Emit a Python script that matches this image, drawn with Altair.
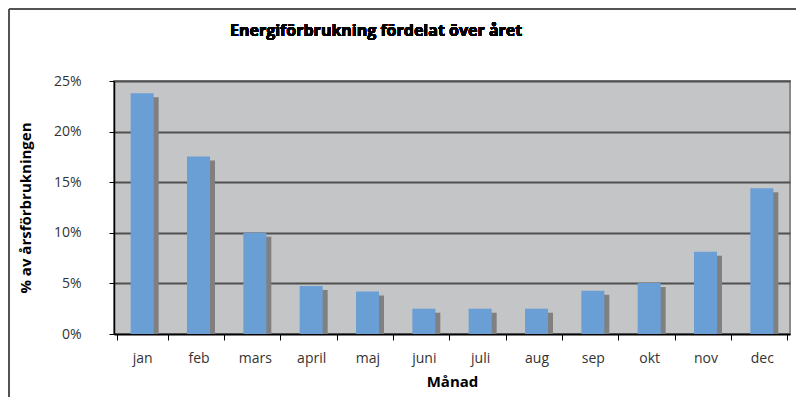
import altair as alt
import pandas as pd

months = ["jan", "feb", "mars", "april", "maj", "juni", "juli", "aug", "sep", "okt", "nov", "dec"]
share = [0.238, 0.1755, 0.100, 0.0475, 0.042, 0.025, 0.025, 0.025, 0.0428, 0.0505, 0.0813, 0.144]
y_ticks = [0, 0.05, 0.10, 0.15, 0.20, 0.25]
chart_title = "Energiförbrukning fördelat över året"

df = pd.DataFrame({"Månad": months, "andel": share})

FONT = "Open Sans"

x_enc = alt.X("Månad:N", sort=months,
              axis=alt.Axis(title="Månad", labelAngle=0, tickBand="extent",
                            tickSize=6, tickColor="#000000", domainColor="#000000",
                            domainWidth=1.5, labelPadding=11, titlePadding=9,
                            labelFont=FONT, labelFontSize=14, labelColor="#333333",
                            titleFont=FONT, titleFontSize=15, titleFontWeight="bold",
                            titleColor="#000000", grid=False))
y_enc = alt.Y("andel:Q", scale=alt.Scale(domain=[0, 0.25], nice=False),
              axis=alt.Axis(title="% av årsförbrukningen", format=".0%", values=y_ticks,
                            tickSize=5, tickColor="#000000", domainColor="#000000",
                            domainWidth=1.5, labelPadding=28,
                            labelFont=FONT, labelFontSize=14, labelColor="#333333",
                            titleFont=FONT, titleFontSize=15, titleFontWeight="bold",
                            titleColor="#000000", titleX=-89, titleY=126.5,
                            titleAlign="center", titleBaseline="middle",
                            grid=True, gridColor="#505050", gridWidth=2))

shadow = alt.Chart(df).mark_bar(color="#808080", size=23, xOffset=5, yOffset=4,
                                clip=True).encode(x=x_enc, y=y_enc)
bars = alt.Chart(df).mark_bar(color="#6A9FD6", size=23).encode(x=x_enc, y=y_enc)

border_left = alt.Chart(df).mark_rule(color="#555555", strokeWidth=1.5, clip=False).encode(
    x=alt.value(-105), y=alt.value(-72), y2=alt.value(340))
border_top = alt.Chart(df).mark_rule(color="#555555", strokeWidth=1.5, clip=False).encode(
    x=alt.value(-105), x2=alt.value(700), y=alt.value(-72))

title_text = alt.Chart(df).mark_text(align="left", baseline="alphabetic", font=FONT,
                                     fontSize=16, fontWeight="bold", color="#000000",
                                     clip=False).encode(
    x=alt.value(116), y=alt.value(-45), text=alt.value(chart_title))

chart = alt.layer(shadow, bars, border_left, border_top, title_text).properties(
    width=676, height=253,
    autosize=alt.AutoSizeParams(type="none"),
    padding={"left": 106, "top": 73, "right": 6, "bottom": 63},
).configure_view(fill="#C4C5C7", stroke="#8A8A8A", strokeWidth=2)

chart.save("out.html", embed_options={"renderer": "svg", "actions": False})
